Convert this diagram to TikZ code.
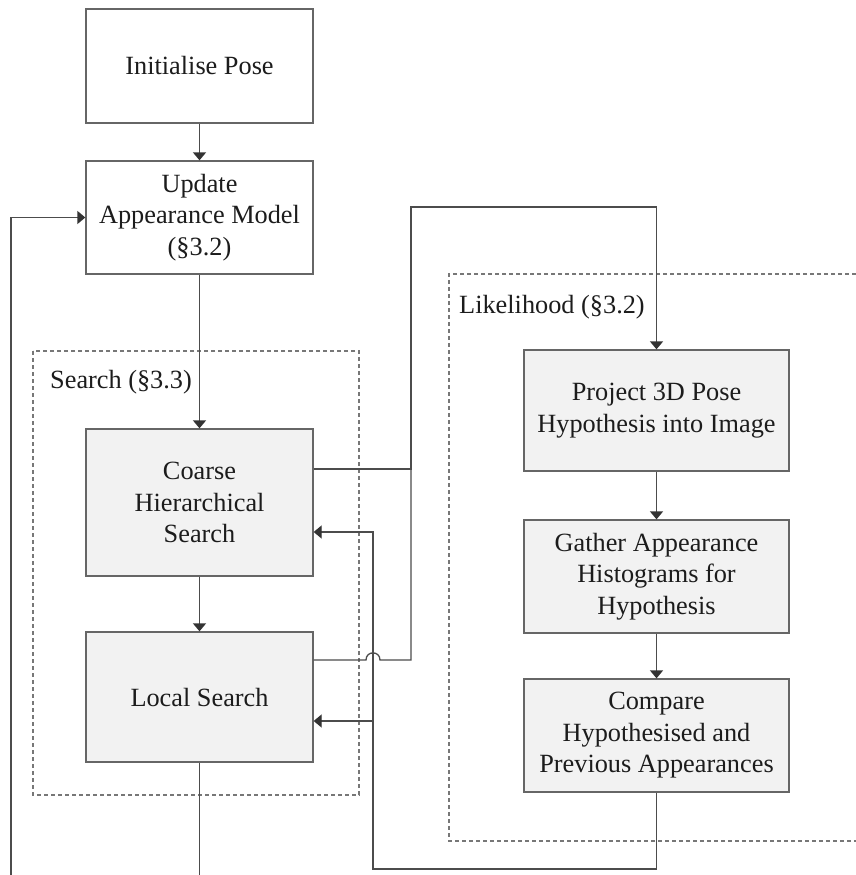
\documentclass[tikz,border=0pt]{standalone}
\usepackage{fontspec}
\setmainfont{Liberation Serif}
\usetikzlibrary{arrows.meta,calc}
\definecolor{linec}{HTML}{4C4C4C}
\definecolor{boxc}{HTML}{666666}
\definecolor{arrc}{HTML}{333333}
\definecolor{fillc}{HTML}{F2F2F2}
\definecolor{dashc}{HTML}{777777}
\definecolor{txtc}{HTML}{1C1C1C}
\begin{document}
\begin{tikzpicture}[x=1pt,y=-1pt,
  box/.style={draw=boxc, line width=1.3pt, fill=white, text=txtc, align=center,
    inner sep=0pt, minimum width=227pt, font=\fontsize{26.3}{31.5}\selectfont},
  gbox/.style={box, fill=fillc},
  rbox/.style={gbox, minimum width=265pt},
  conn/.style={draw=linec, line width=1.3pt},
  arr/.style={conn, -{Triangle[width=13pt,length=8pt,fill=arrc,color=arrc]}},
  grp/.style={draw=dashc, line width=1.1pt, dash pattern=on 4pt off 3pt},
  grplabel/.style={anchor=base west, inner sep=0pt, text=txtc, font=\fontsize{26.3}{31.5}\selectfont}]
\useasboundingbox (0,0) rectangle (856,875);

% group frames
\draw[grp] (33,351) rectangle (359,795);
\draw[grp] (856,274) -- (449,274) -- (449,841) -- (856,841);
\node[grplabel] (lsearch) at (50,388) {Search (§3.3)};
\node[grplabel] (llik) at (459,313) {Likelihood (§3.2)};

% nodes
\node[box, minimum height=114pt] (init) at (199.5,66) {Initialise Pose};
\node[box, minimum height=113pt] (update) at (199.5,217.5) {Update\\Appearance Model\\(§3.2)};
\node[gbox, minimum height=147pt] (coarse) at (199.5,502.5) {Coarse\\Hierarchical\\Search};
\node[gbox, minimum height=130pt] (local) at (199.5,697) {Local Search};
\node[rbox, minimum height=121pt] (project) at (656.5,410.5) {Project 3D Pose\\Hypothesis into Image};
\node[rbox, minimum height=113pt] (gather) at (656.5,576.5) {Gather Appearance\\Histograms for\\Hypothesis};
\node[rbox, minimum height=113pt] (compare) at (656.5,735.5) {Compare\\Hypothesised and\\Previous Appearances};

% waypoints
\coordinate (bot1) at (199.5,875);
\coordinate (bot2) at (11,875);
\coordinate (c1) at (411,207);
\coordinate (j1) at (411,469);
\coordinate (h1) at (366,660);
\coordinate (h2) at (380,660);
\coordinate (c3) at (373,869);
\coordinate (c4) at (373,532);
\coordinate (c5) at (373,721);

% connectors
\draw[arr] (init) -- (update);
\draw[arr] (update) -- (coarse);
\draw[arr] (coarse) -- (local);
\draw[conn] (local) -- (bot1);
\draw[arr] (bot2) |- (update.west);
\draw[arr] (project) -- (gather);
\draw[arr] (gather) -- (compare);
\draw[arr] ([yshift=33.5pt]coarse.east) -| (c1) -| (project.north);
\draw[conn] ([yshift=37pt]local.east) -- (h1) .. controls ($(h1)+(0,-9.5)$) and ($(h2)+(0,-9.5)$) .. (h2) -| (j1);
\draw[arr] (compare.south) |- (c3) -- (c4) -- ([yshift=-29.5pt]coarse.east);
\draw[arr] (c5) -- ([yshift=-24pt]local.east);
\end{tikzpicture}
\end{document}
